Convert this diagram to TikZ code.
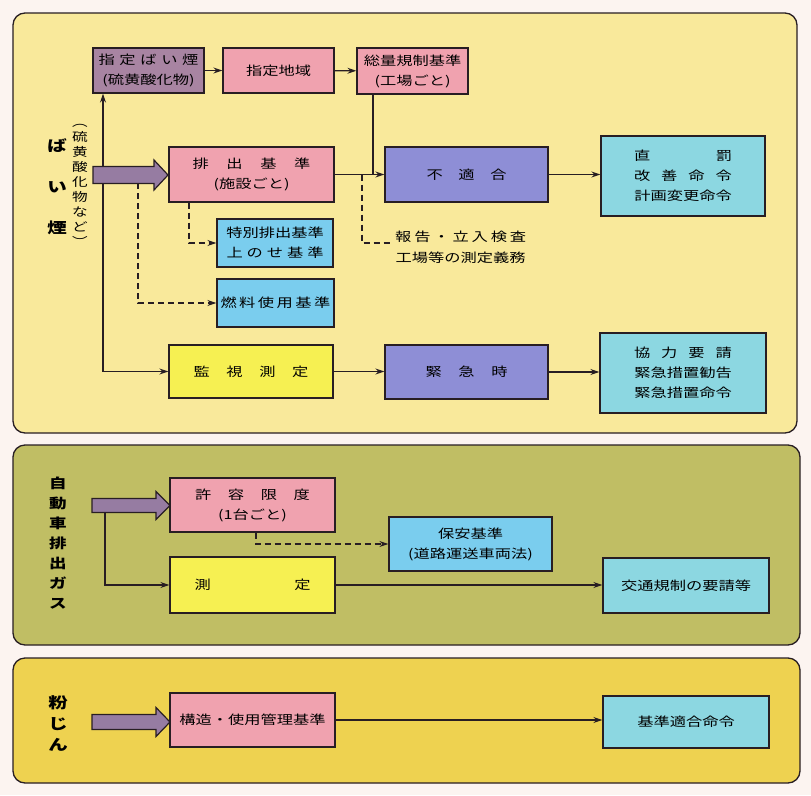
\documentclass[tikz,border=0pt]{standalone}
\usepackage{fontspec}
\newfontfamily\jpfont[FakeStretch=1.3]{Noto Sans CJK JP}
\usetikzlibrary{arrows.meta}

\begin{document}
\begin{tikzpicture}[x=1pt,y=1pt,yscale=-1,xscale=1,
 edge/.style={color={rgb, 255:red, 40; green, 30; blue, 35 }},
 panel/.style={edge,line width=1.3,rounded corners=12},
 box/.style={edge,draw,line width=1.3,inner sep=0pt,align=center,text=black,font=\jpfont\fontsize{12.5}{20}\selectfont},
 pinkbox/.style={box,fill={rgb, 255:red, 240; green, 162; blue, 175 }},
 mauvebox/.style={box,fill={rgb, 255:red, 168; green, 132; blue, 162 }},
 violetbox/.style={box,fill={rgb, 255:red, 142; green, 142; blue, 214 }},
 skybox/.style={box,fill={rgb, 255:red, 122; green, 205; blue, 238 }},
 resultbox/.style={box,fill={rgb, 255:red, 140; green, 215; blue, 225 }},
 yellowbox/.style={box,fill={rgb, 255:red, 246; green, 240; blue, 82 }},
 vlabel/.style={inner sep=0pt,align=center,text=black},
 bigarrow/.style={edge,draw,line width=1.2,fill={rgb, 255:red, 150; green, 124; blue, 162 }},
 line/.style={edge,line width=1.2},
 conn/.style={line,-{Stealth[length=9pt,width=6pt]}},
 dline/.style={line,dash pattern=on 6pt off 4pt},
 dconn/.style={dline,-{Stealth[length=9pt,width=6pt]}}
 ]
 \useasboundingbox (0,0) rectangle (811,795);
 \fill [color={rgb, 255:red, 252; green, 244; blue, 240 }] (0,0) rectangle (811,795);

 %Shape: Rectangle [ba i en]
 \draw [panel,fill={rgb, 255:red, 249; green, 233; blue, 155 }] (13,13) rectangle (797,433);
 %Shape: Rectangle [jidousha]
 \draw [panel,fill={rgb, 255:red, 192; green, 190; blue, 100 }] (13,445) rectangle (800,645);
 %Shape: Rectangle [funjin]
 \draw [panel,fill={rgb, 255:red, 238; green, 210; blue, 80 }] (13,658) rectangle (800,783);

 % Text Node
 \node [vlabel,font=\jpfont\bfseries\fontsize{15}{41}\selectfont] (baien) at (57,187) {ば\\い\\煙};
 % Text Node
 \node [vlabel,font=\jpfont\fontsize{12}{15}\selectfont] (baienex) at (80,185) {︵\\硫\\黄\\酸\\化\\物\\な\\ど\\︶};
 % Text Node
 \node [vlabel,font=\jpfont\bfseries\fontsize{13.5}{20}\selectfont] (jidousha) at (58,543) {自\\動\\車\\排\\出\\ガ\\ス};
 % Text Node
 \node [vlabel,font=\jpfont\bfseries\fontsize{15}{21}\selectfont] (funjin) at (58,724) {粉\\じ\\ん};

 % Boxes: ba i en
 \node [mauvebox,minimum width=111,minimum height=45] (sbaien) at (148.5,70.5) {\makebox[100pt]{指\hfill 定\hfill ば\hfill い\hfill 煙}\\(硫黄酸化物)};
 \node [pinkbox,minimum width=111,minimum height=45] (chiiki) at (278.5,70.5) {指定地域};
 \node [pinkbox,minimum width=111,minimum height=46] (souryou) at (412.5,71) {総量規制基準\\(工場ごと)};
 \node [pinkbox,minimum width=165,minimum height=55] (haishutsu) at (251.5,174.5) {\makebox[118pt]{排\hfill 出\hfill 基\hfill 準}\\(施設ごと)};
 \node [violetbox,minimum width=163,minimum height=55] (futekigou) at (466.5,174.5) {\makebox[80pt]{不\hfill 適\hfill 合}};
 \node [resultbox,minimum width=164,minimum height=80] (bakki) at (683,176) {\makebox[98pt]{直\hfill 罰}\\\makebox[98pt]{改\hfill 善\hfill 命\hfill 令}\\計画変更命令};
 \node [skybox,minimum width=116,minimum height=48] (tokubetsu) at (275,243) {特別排出基準\\\makebox[97pt]{上\hfill の\hfill せ\hfill 基\hfill 準}};
 \node [skybox,minimum width=117,minimum height=48] (nenryou) at (275.5,303) {\makebox[110pt]{燃\hfill 料\hfill 使\hfill 用\hfill 基\hfill 準}};
 \node [yellowbox,minimum width=164,minimum height=53] (kanshi) at (251,371.5) {\makebox[115pt]{監\hfill 視\hfill 測\hfill 定}};
 \node [violetbox,minimum width=163,minimum height=54] (kinkyu) at (466.5,372) {\makebox[82pt]{緊\hfill 急\hfill 時}};
 \node [resultbox,minimum width=166,minimum height=80] (kyouryoku) at (683,373) {\makebox[98pt]{協\hfill 力\hfill 要\hfill 請}\\緊急措置勧告\\緊急措置命令};
 % Text Node
 \node [anchor=west,inner sep=0pt,align=left,font=\jpfont\fontsize{12.5}{21}\selectfont] (houkoku) at (395,247.5) {\makebox[131pt]{報\hfill 告\hfill ・\hfill 立\hfill 入\hfill 検\hfill 査}\\\makebox[131pt]{工場等の測定義務}};

 % Boxes: jidousha
 \node [pinkbox,minimum width=165,minimum height=54] (kyoyou) at (252.5,505) {\makebox[115pt]{許\hfill 容\hfill 限\hfill 度}\\(1台ごと)};
 \node [skybox,minimum width=163,minimum height=54] (hoan) at (470.5,544) {保安基準\\(道路運送車両法)};
 \node [yellowbox,minimum width=165,minimum height=56] (sokutei) at (252.5,585) {\makebox[116pt]{測\hfill 定}};
 \node [resultbox,minimum width=166,minimum height=55] (koutsuu) at (686,585.5) {交通規制の要請等};

 % Boxes: funjin
 \node [pinkbox,minimum width=165,minimum height=54] (kouzou) at (252.5,720) {構造・使用管理基準};
 \node [resultbox,minimum width=166,minimum height=52] (kijun) at (686,722) {基準適合命令};

 %Straight Lines
 \draw [conn] (sbaien) -- (chiiki);
 \draw [conn] (chiiki) -- (souryou);
 \draw [conn] (haishutsu) -- (futekigou);
 \coordinate (j1) at (373,174.5);
 \draw [line] (j1 |- souryou.south) -- (j1);
 \coordinate (d1) at (362,174.5);
 \coordinate (d1e) at (391,243);
 \draw [dline] (d1) |- (d1e);
 \draw [conn] (futekigou.east) -- (futekigou.east -| bakki.west);
 \coordinate (c1) at (103,371.5);
 \draw [conn] (c1) -- (c1 |- sbaien.south);
 \draw [conn] (c1) -- (kanshi.west);
 \coordinate (d2) at (138,183);
 \draw [dconn] (d2) |- (nenryou.west);
 \draw [dconn] ([xshift=-62.5]haishutsu.south) |- (tokubetsu.west);
 \draw [conn] (kanshi.east) -- (kanshi.east -| kinkyu.west);
 \draw [conn] (kinkyu.east) -- (kinkyu.east -| kyouryoku.west);

 \coordinate (a2) at (105,512);
 \draw [conn] (a2) |- (sokutei.west);
 \draw [dconn] ([xshift=3.5]kyoyou.south) |- (hoan.west);
 \draw [conn] (sokutei.east) -- (sokutei.east -| koutsuu.west);

 \draw [conn] (kouzou.east) -- (kouzou.east -| kijun.west);

 %Shape: Big Arrows
 \draw [bigarrow] (93,175) ++(0,-8.5) -- ++(61,0) -- ++(0,-6.5) -- ++(14,15) -- ++(-14,15) -- ++(0,-6.5) -- ++(-61,0) -- cycle;
 \draw [bigarrow] (92,505.5) ++(0,-7) -- ++(64,0) -- ++(0,-7) -- ++(14,14) -- ++(-14,14) -- ++(0,-7) -- ++(-64,0) -- cycle;
 \draw [bigarrow] (92,722) ++(0,-7.5) -- ++(64,0) -- ++(0,-7) -- ++(14,14.5) -- ++(-14,14.5) -- ++(0,-7) -- ++(-64,0) -- cycle;

\end{tikzpicture}
\end{document}
